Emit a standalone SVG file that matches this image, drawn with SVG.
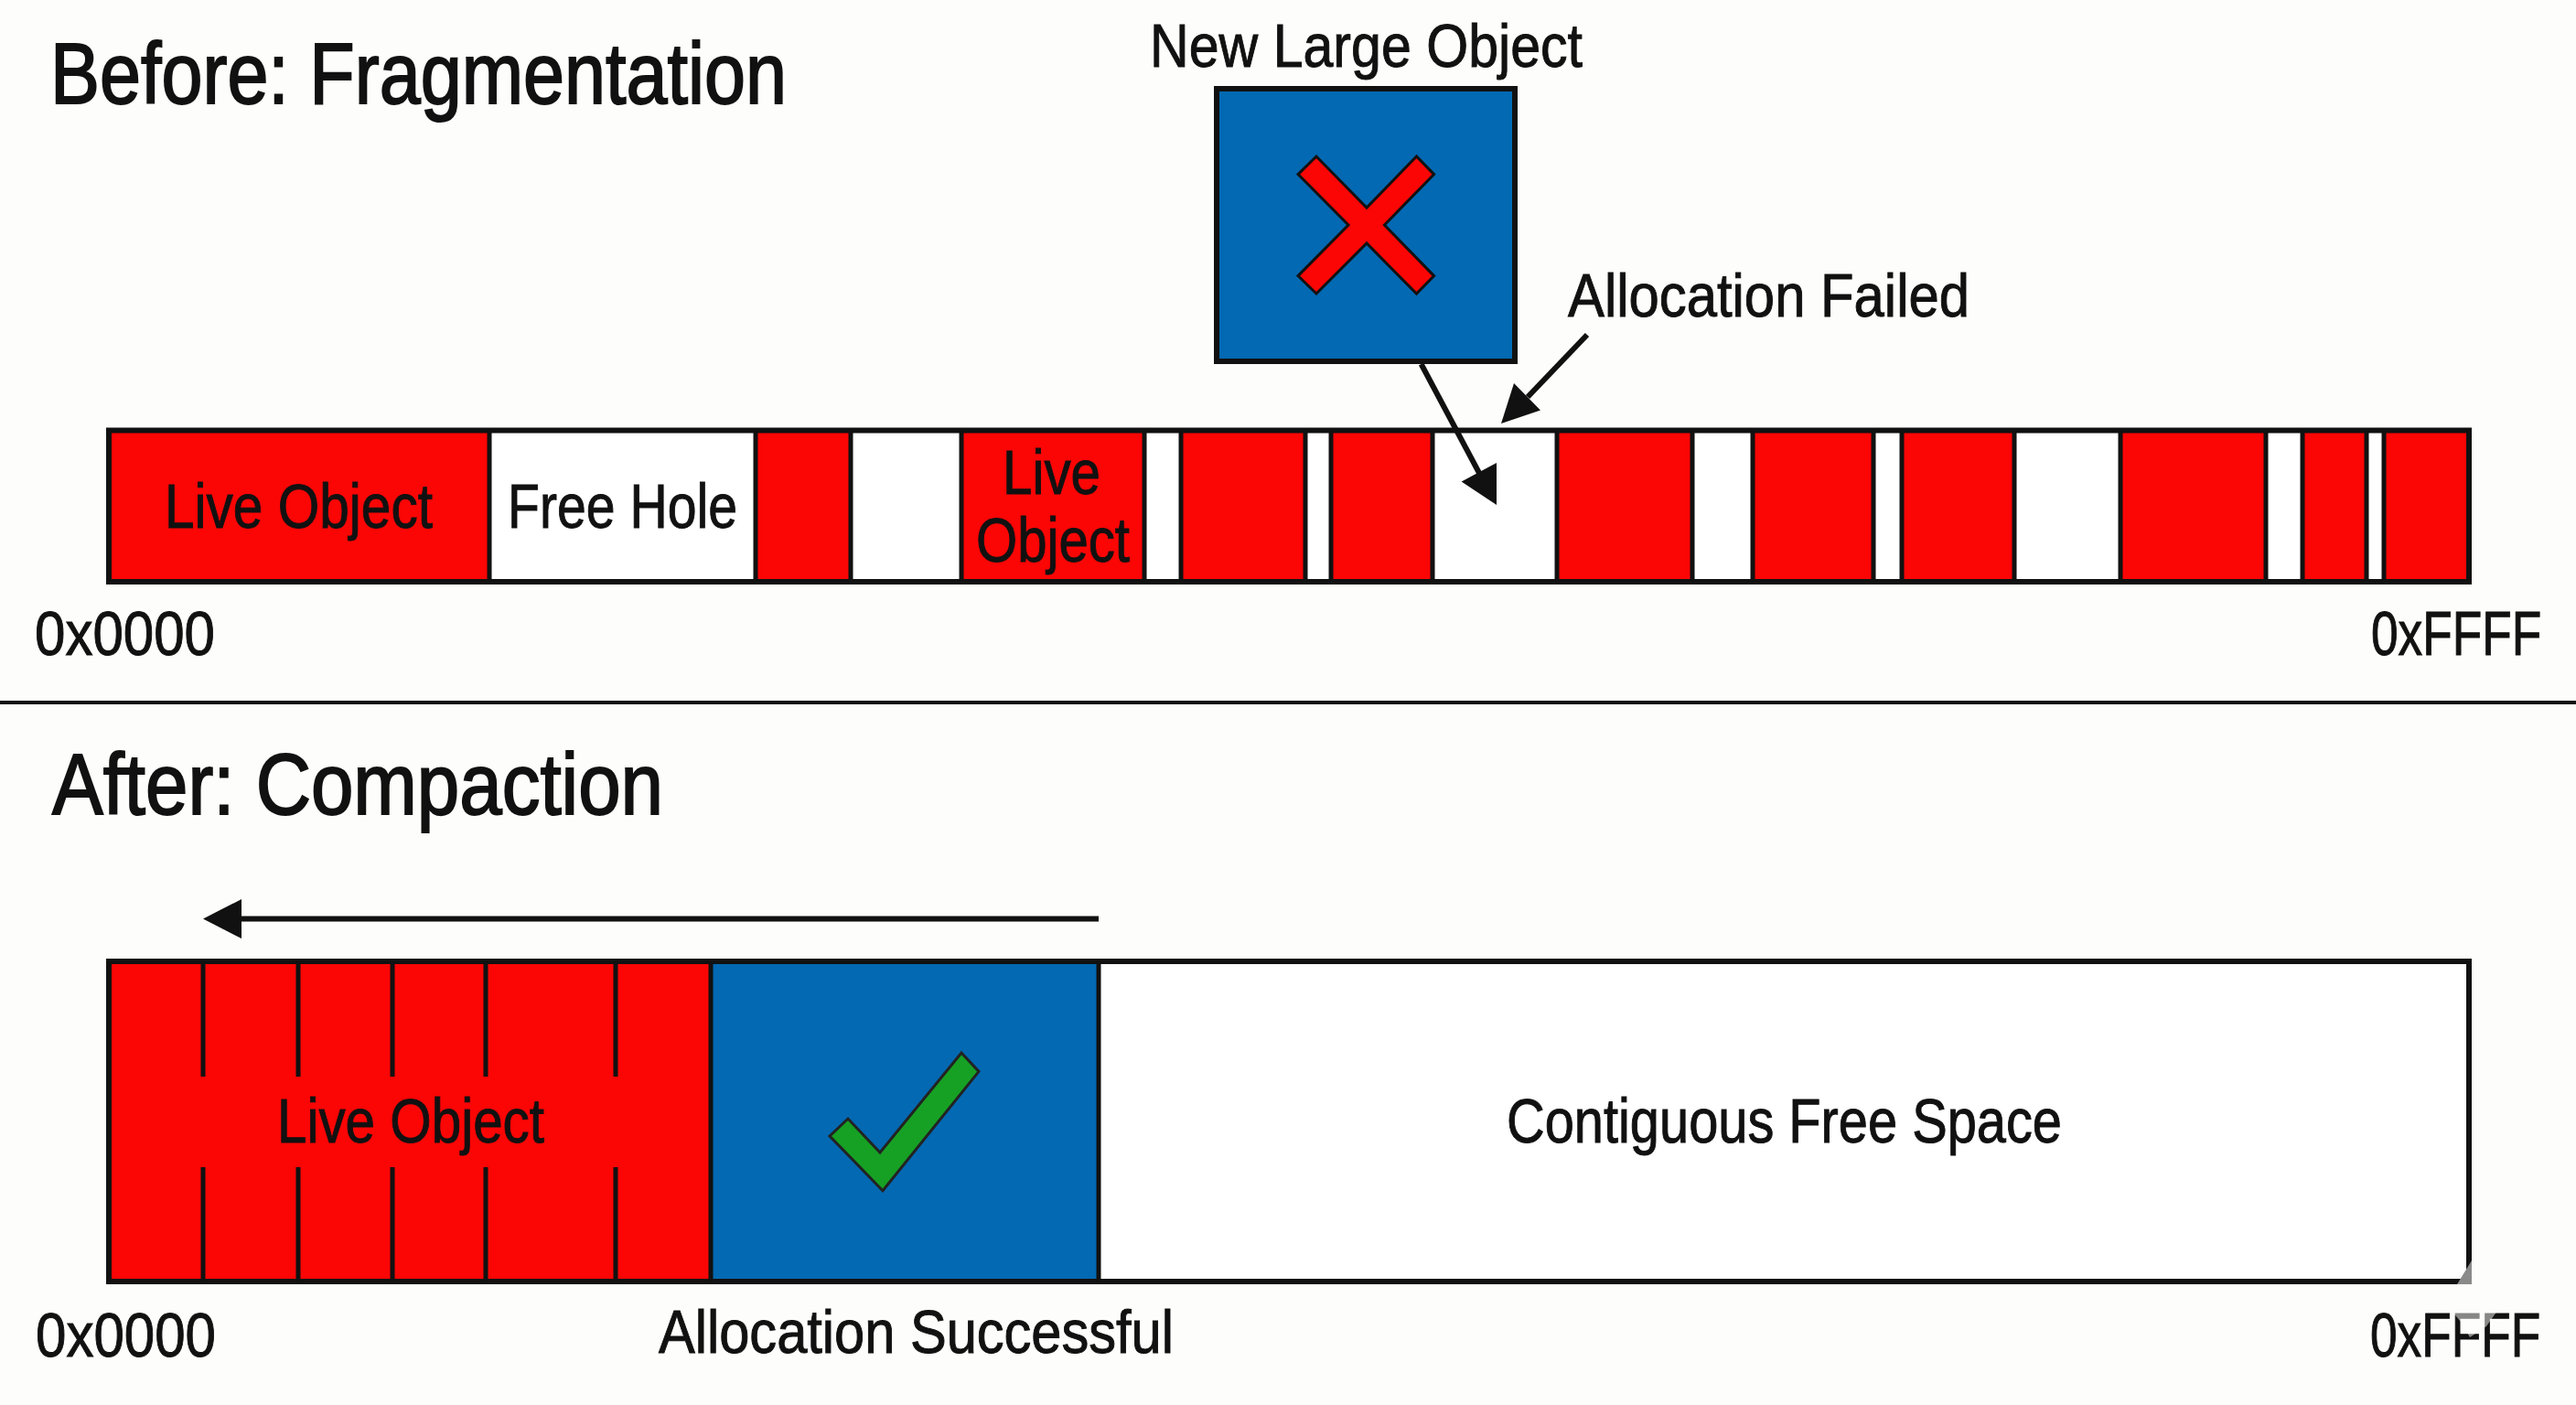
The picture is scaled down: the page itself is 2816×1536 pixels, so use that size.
<svg xmlns="http://www.w3.org/2000/svg" width="2816" height="1536" viewBox="0 0 2816 1536">
<style>
text{font-family:"Liberation Sans",Arial,sans-serif;fill:#111;stroke:#111;stroke-width:1}
.t{font-size:95px;stroke-width:2}.l{font-size:69px}.m{font-size:67px}
.r{fill:#fb0505}.w{fill:#fff}.b{fill:#0369b3}
.o{fill:none;stroke:#111;stroke-width:6}
.d{stroke:#111;stroke-width:5}
.k{stroke:#111;stroke-width:5}
.c{stroke:#111;stroke-width:6;fill:none}
.h{fill:#111}
</style>
<rect width="2816" height="1536" fill="#fdfdfb"/>
<g id="title-before"><text class="t" x="55" y="113" textLength="805" lengthAdjust="spacingAndGlyphs">Before: Fragmentation</text></g>
<g id="title-after"><text class="t" x="57" y="890" textLength="668" lengthAdjust="spacingAndGlyphs">After: Compaction</text></g>
<rect id="separator" x="0" y="766" width="2816" height="4" fill="#111"/>
<g id="heap-before">
<rect class="w" x="119" y="470.500" width="2580" height="165.500"/>
<rect class="r" x="119" y="470.500" width="416" height="165.500"/>
<rect class="r" x="826" y="470.500" width="104" height="165.500"/>
<rect class="r" x="1051" y="470.500" width="200" height="165.500"/>
<rect class="r" x="1291" y="470.500" width="136" height="165.500"/>
<rect class="r" x="1455" y="470.500" width="111" height="165.500"/>
<rect class="r" x="1702" y="470.500" width="148" height="165.500"/>
<rect class="r" x="1916" y="470.500" width="132" height="165.500"/>
<rect class="r" x="2079" y="470.500" width="123" height="165.500"/>
<rect class="r" x="2318" y="470.500" width="159" height="165.500"/>
<rect class="r" x="2517" y="470.500" width="70" height="165.500"/>
<rect class="r" x="2606" y="470.500" width="93" height="165.500"/>
<path class="d" d="M535 470V636M826 470V636M930 470V636M1051 470V636M1251 470V636M1291 470V636M1427 470V636M1455 470V636M1566 470V636M1702 470V636M1850 470V636M1916 470V636M2048 470V636M2079 470V636M2202 470V636M2318 470V636M2477 470V636M2517 470V636M2587 470V636M2606 470V636"/>
<rect class="o" x="119" y="470.500" width="2580" height="165.500"/>
<text class="l" x="180" y="577" textLength="293" lengthAdjust="spacingAndGlyphs">Live Object</text>
<text class="l" x="555" y="577" textLength="251" lengthAdjust="spacingAndGlyphs">Free Hole</text>
<text class="l" x="1096" y="540" textLength="107" lengthAdjust="spacingAndGlyphs">Live</text>
<text class="l" x="1067" y="614" textLength="168" lengthAdjust="spacingAndGlyphs">Object</text>
<text class="l" x="38" y="716" textLength="197" lengthAdjust="spacingAndGlyphs">0x0000</text>
<text class="l" transform="translate(2592,716) scale(.772,1)">0xFFFF</text>
</g>
<g id="new-object">
<text class="m" x="1257" y="73" textLength="473" lengthAdjust="spacingAndGlyphs">New Large Object</text>
<rect class="b" x="1330" y="97" width="326" height="298" stroke="#111" stroke-width="6"/>
<polygon points="1439,171 1419,190.600 1474,246 1419,301.600 1439,321 1494,266 1548.500,321 1567.600,301.600 1513.400,246 1567.600,190.600 1548.500,171 1494,227" fill="#fb0505" stroke="#111" stroke-width="3"/>
</g>
<g id="allocation-failed"><text class="m" x="1714" y="346" textLength="439" lengthAdjust="spacingAndGlyphs">Allocation Failed</text></g>
<g id="heap-after">
<rect class="w" x="119" y="1051" width="2580" height="350"/>
<rect class="r" x="119" y="1051" width="658" height="350"/>
<rect class="b" x="777" y="1051" width="424" height="350"/>
<path class="k" d="M222 1052V1177M326 1052V1177M429 1052V1177M531 1052V1177M673 1052V1177M222 1276V1401M326 1276V1401M429 1276V1401M531 1276V1401M673 1276V1401"/>
<path class="d" d="M777 1051V1401M1201 1051V1401"/>
<rect class="o" x="119" y="1051" width="2580" height="350"/>
<polygon points="2702,1378 2702,1404 2686,1404" fill="#8a8a8a"/>
<text class="l" x="303" y="1249" textLength="292" lengthAdjust="spacingAndGlyphs">Live Object</text>
<polygon points="1051,1151 1070,1171.400 965,1301.700 907,1242 927,1223 962,1260" fill="#16a124" stroke="#222" stroke-width="3"/>
<text class="l" x="1647" y="1249" textLength="607" lengthAdjust="spacingAndGlyphs">Contiguous Free Space</text>
<text class="l" x="39" y="1483" textLength="197" lengthAdjust="spacingAndGlyphs">0x0000</text>
<text class="m" x="720" y="1479" textLength="563" lengthAdjust="spacingAndGlyphs">Allocation Successful</text>
<text class="l" transform="translate(2591,1483) scale(.772,1)">0xFFFF</text>
<polygon points="2680,1433 2730,1433 2718,1450 2700,1462 2690,1445" fill="#fdfdfb" opacity=".5"/>
</g>
<g id="connectors">
<path class="c" d="M1553.600 398 L1618 519"/>
<polygon class="h" points="1636,552 1597.600,526.600 1636,506"/>
<path class="c" d="M1735 366 L1670 434"/>
<polygon class="h" points="1641,463 1655,419 1684,448.600"/>
<path class="c" d="M1201 1004.600 H262"/>
<polygon class="h" points="222,1004.600 264,983 264,1026"/>
</g>
</svg>
